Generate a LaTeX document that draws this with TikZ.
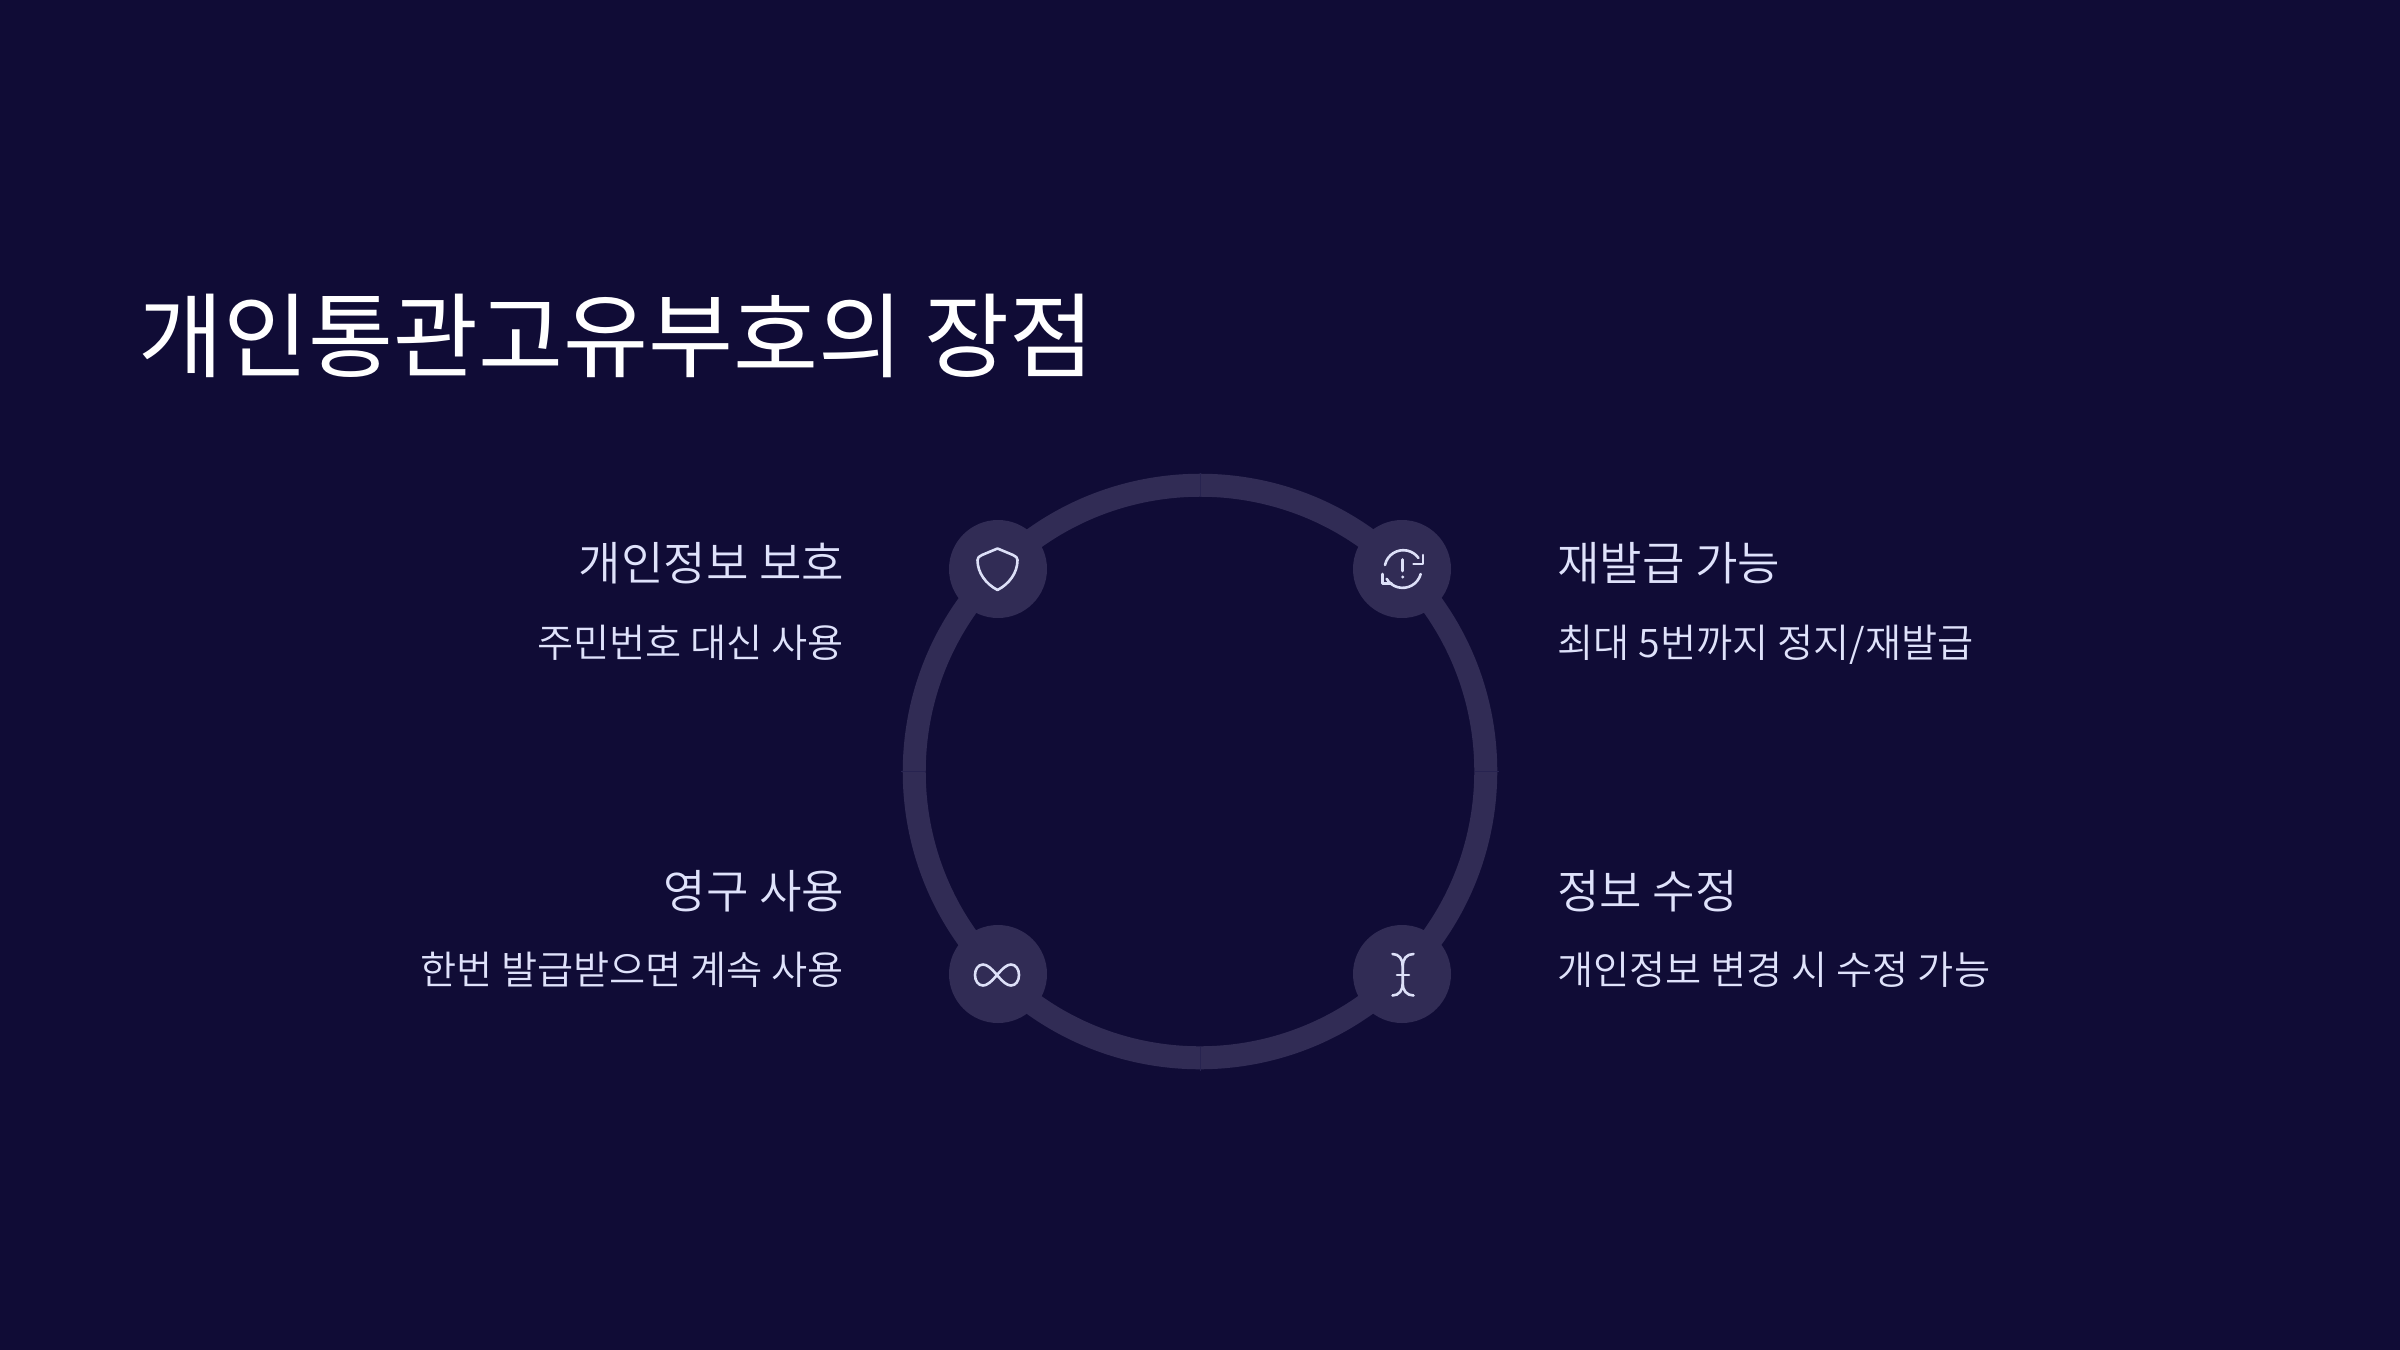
\documentclass[tikz,border=0pt]{standalone}
\usepackage{fontspec}
\setmainfont{Noto Sans CJK KR DemiLight}
\newfontfamily\titlefont{Noto Sans CJK KR}
\definecolor{bgc}{HTML}{100C36}
\definecolor{ringc}{HTML}{312C55}
\definecolor{seamc}{HTML}{272350}
\definecolor{txtc}{HTML}{DFE2FB}
\definecolor{iconc}{HTML}{DDE0F8}
\tikzset{
 ringarc/.style={draw=ringc,line width=11.5pt},
 seam/.style={draw=seamc,line width=0.25pt},
 hub/.style={circle,fill=ringc,minimum size=49pt,inner sep=0pt},
 iconline/.style={draw=iconc,line width=1.3pt,line cap=round,line join=round},
 headl/.style={text=txtc,font=\fontsize{23.1}{28}\selectfont,inner sep=0pt},
 subl/.style={text=txtc,font=\fontsize{19.65}{24}\selectfont,inner sep=0pt},
 titlel/.style={text=white,font=\titlefont\fontsize{46.2}{56}\selectfont,inner sep=0pt}
}
\begin{document}
\begin{tikzpicture}[x=0.5pt,y=-0.5pt]
\useasboundingbox (0,0) rectangle (2400,1350);
\fill[bgc] (0,0) rectangle (2400,1350);
\node[titlel,anchor=base west] (title) at (138.5,370) {개인통관고유부호의 장점};
\node[hub] (a) at (998,569) {};
\node[hub] (b) at (1402,569) {};
\node[hub] (c) at (998,974) {};
\node[hub] (d) at (1402,974) {};
\coordinate (o) at (1200,771.5);
\draw[ringarc] (a.center) arc[start angle=225,end angle=315,radius=286];
\draw[ringarc] (b.center) arc[start angle=-45,end angle=45,radius=286];
\draw[ringarc] (d.center) arc[start angle=45,end angle=135,radius=286];
\draw[ringarc] (c.center) arc[start angle=135,end angle=225,radius=286];
\draw[seam] ([yshift=137.5pt]o) -- ([yshift=149.5pt]o);
\draw[seam] ([yshift=-137.5pt]o) -- ([yshift=-149.5pt]o);
\draw[seam] ([xshift=137.5pt]o) -- ([xshift=149.5pt]o);
\draw[seam] ([xshift=-137.5pt]o) -- ([xshift=-149.5pt]o);
% shield
\draw[iconline] (997.5,548.5) -- (1013,555) .. controls (1016,556) and (1017.5,558) .. (1017.5,560) .. controls (1017.5,573) and (1009,584) .. (997.5,590) .. controls (986,584) and (977.5,573) .. (977.5,560) .. controls (977.5,558) and (979,556) .. (982,555) -- cycle;
% refresh with mark
\draw[iconline] (1385,565) arc[start angle=192,end angle=324,radius=18.7];
\draw[iconline] (1423,555) -- (1423,564) -- (1413.5,564);
\draw[iconline] (1420.7,574) arc[start angle=15,end angle=149,radius=18.7];
\draw[iconline] (1382.7,574) -- (1382.7,583.3) -- (1391.7,583.3);
\draw[iconline] (1402.7,559.5) -- (1402.7,571);
\fill[iconc] (1402.7,577) circle[radius=1.7];
% infinity
\draw[iconline] (997,975) .. controls (1003,968) and (1007,964.5) .. (1011,964.5) .. controls (1016,964.5) and (1019,969.5) .. (1019,975) .. controls (1019,980.5) and (1016,985.5) .. (1011,985.5) .. controls (1007,985.5) and (1003,982) .. (997,975) .. controls (991,968) and (987,964.5) .. (983,964.5) .. controls (978,964.5) and (975,969.5) .. (975,975) .. controls (975,980.5) and (978,985.5) .. (983,985.5) .. controls (987,985.5) and (991,982) .. (997,975) -- cycle;
% cursor
\draw[iconline] (1392.5,954) .. controls (1399,954) and (1402.7,959) .. (1402.7,966) -- (1402.7,984) .. controls (1402.7,990) and (1399,995.5) .. (1392.5,995.5);
\draw[iconline] (1413.5,954) .. controls (1406.5,954) and (1402.7,959) .. (1402.7,966);
\draw[iconline] (1413.5,995.5) .. controls (1406.5,995.5) and (1402.7,990) .. (1402.7,984);
\draw[iconline] (1397,975) -- (1409,975);
\node[headl,anchor=base east] (h1) at (844.5,580.5) {개인정보 보호};
\node[subl,anchor=base east] (s1) at (844.5,657) {주민번호 대신 사용};
\node[headl,anchor=base east] (h3) at (844.5,908.5) {영구 사용};
\node[subl,anchor=base east] (s3) at (844.5,984) {한번 발급받으면 계속 사용};
\node[headl,anchor=base west] (h2) at (1557,580.5) {재발급 가능};
\node[subl,anchor=base west] (s2) at (1557,657) {최대 5번까지 정지/재발급};
\node[headl,anchor=base west] (h4) at (1557,908.5) {정보 수정};
\node[subl,anchor=base west] (s4) at (1557,984) {개인정보 변경 시 수정 가능};
\end{tikzpicture}
\end{document}
